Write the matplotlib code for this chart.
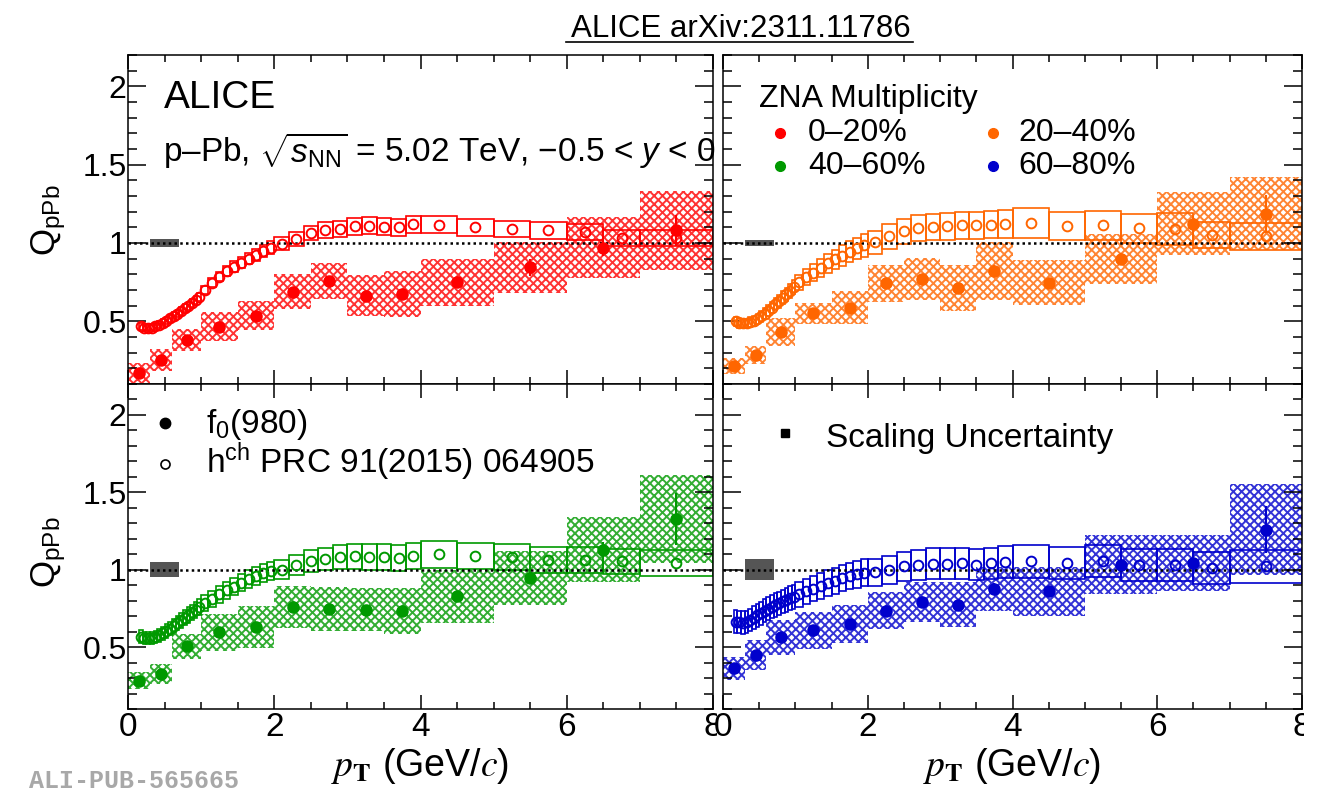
import matplotlib
matplotlib.use('Agg')
import matplotlib.pyplot as plt
from matplotlib.patches import Rectangle
from matplotlib.lines import Line2D
from matplotlib.ticker import MultipleLocator, FixedLocator, FormatStrFormatter
from matplotlib.colors import to_rgba
from matplotlib.transforms import Bbox

plt.rcParams['font.family'] = ['Liberation Sans', 'DejaVu Sans']
plt.rcParams['mathtext.fontset'] = 'custom'
plt.rcParams['mathtext.rm'] = 'Liberation Sans'
plt.rcParams['mathtext.it'] = 'Liberation Sans:italic'
plt.rcParams['mathtext.bf'] = 'Liberation Sans:bold'
plt.rcParams['hatch.linewidth'] = 1.4

W, H = 1317, 792

# f0(980) pT bins
f0_lo = [0.0, 0.3, 0.6, 1.0, 1.5, 2.0, 2.5, 3.0, 3.5, 4.0, 5.0, 6.0, 7.0]
f0_hi = [0.3, 0.6, 1.0, 1.5, 2.0, 2.5, 3.0, 3.5, 4.0, 5.0, 6.0, 7.0, 8.0]

# charged hadron pT bin edges, PRC 91 (2015) 064905
hch_edges = [0.15, 0.2, 0.25, 0.3, 0.35, 0.4, 0.45, 0.5, 0.55, 0.6, 0.65, 0.7,
             0.75, 0.8, 0.85, 0.9, 0.95, 1.0, 1.1, 1.2, 1.3, 1.4, 1.5, 1.6,
             1.7, 1.8, 1.9, 2.0, 2.2, 2.4, 2.6, 2.8, 3.0, 3.2, 3.4, 3.6, 3.8,
             4.0, 4.5, 5.0, 5.5, 6.0, 6.5, 7.0, 8.0]

classes = ['0–20%', '20–40%', '40–60%', '60–80%']
colors = ['#ff0000', '#ff6600', '#009900', '#0000cc']

# ZNA 0-20%
f0_q_0_20 = [0.171, 0.252, 0.378, 0.467, 0.537, 0.689, 0.759, 0.664, 0.674, 0.748, 0.844, 0.970, 1.080]
f0_stat_0_20 = [0.010, 0.010, 0.010, 0.012, 0.015, 0.015, 0.020, 0.020, 0.030, 0.030, 0.055, 0.050, 0.100]
f0_sys_0_20 = [0.064, 0.069, 0.070, 0.095, 0.095, 0.110, 0.115, 0.130, 0.145, 0.153, 0.160, 0.195, 0.250]
hch_q_0_20 = [0.468, 0.460, 0.458, 0.460, 0.468, 0.478, 0.490, 0.505, 0.520, 0.535, 0.550, 0.567,
              0.584, 0.600, 0.617, 0.636, 0.655, 0.700, 0.745, 0.785, 0.820, 0.850, 0.875, 0.900,
              0.925, 0.950, 0.970, 0.996, 1.027, 1.063, 1.082, 1.090, 1.107, 1.110, 1.105, 1.100,
              1.120, 1.118, 1.100, 1.090, 1.080, 1.070, 1.034, 1.030]
hch_sys_0_20 = [0.022, 0.022, 0.022, 0.022, 0.022, 0.022, 0.022, 0.022, 0.022, 0.023, 0.023, 0.024,
                0.024, 0.025, 0.025, 0.026, 0.026, 0.028, 0.029, 0.030, 0.032, 0.033, 0.034, 0.036,
                0.037, 0.038, 0.040, 0.042, 0.044, 0.047, 0.050, 0.052, 0.053, 0.053, 0.053, 0.053,
                0.054, 0.053, 0.053, 0.052, 0.052, 0.051, 0.050, 0.050]

# ZNA 20-40%
f0_q_20_40 = [0.216, 0.284, 0.432, 0.551, 0.587, 0.742, 0.771, 0.714, 0.820, 0.746, 0.898, 1.123, 1.186]
f0_stat_20_40 = [0.010, 0.010, 0.010, 0.012, 0.015, 0.015, 0.020, 0.020, 0.040, 0.030, 0.040, 0.050, 0.120]
f0_sys_20_40 = [0.053, 0.058, 0.090, 0.068, 0.106, 0.120, 0.132, 0.148, 0.185, 0.143, 0.160, 0.200, 0.233]
hch_q_20_40 = [0.500, 0.490, 0.487, 0.488, 0.495, 0.505, 0.517, 0.532, 0.550, 0.568, 0.588, 0.608,
               0.628, 0.650, 0.672, 0.695, 0.718, 0.750, 0.780, 0.810, 0.840, 0.870, 0.895, 0.920,
               0.945, 0.965, 0.985, 1.004, 1.042, 1.074, 1.095, 1.100, 1.106, 1.112, 1.112, 1.117,
               1.123, 1.127, 1.110, 1.112, 1.095, 1.089, 1.051, 1.042]
hch_sys_20_40 = [0.030, 0.030, 0.030, 0.030, 0.031, 0.032, 0.033, 0.034, 0.035, 0.036, 0.037, 0.038,
                 0.040, 0.041, 0.042, 0.044, 0.045, 0.048, 0.051, 0.054, 0.057, 0.060, 0.063, 0.066,
                 0.068, 0.070, 0.072, 0.075, 0.078, 0.080, 0.082, 0.084, 0.085, 0.086, 0.087, 0.088,
                 0.090, 0.098, 0.090, 0.092, 0.092, 0.100, 0.085, 0.085]

# ZNA 40-60%
f0_q_40_60 = [0.284, 0.325, 0.504, 0.597, 0.629, 0.759, 0.746, 0.741, 0.735, 0.828, 0.946, 1.129, 1.328]
f0_stat_40_60 = [0.010, 0.010, 0.010, 0.012, 0.015, 0.015, 0.020, 0.020, 0.030, 0.030, 0.040, 0.050, 0.167]
f0_sys_40_60 = [0.054, 0.065, 0.081, 0.120, 0.135, 0.137, 0.140, 0.140, 0.150, 0.170, 0.175, 0.210, 0.285]
hch_q_40_60 = [0.568, 0.560, 0.557, 0.558, 0.565, 0.575, 0.588, 0.603, 0.620, 0.637, 0.655, 0.673,
               0.690, 0.707, 0.724, 0.741, 0.758, 0.785, 0.810, 0.840, 0.866, 0.890, 0.915, 0.940,
               0.960, 0.978, 0.990, 1.000, 1.032, 1.058, 1.069, 1.080, 1.086, 1.082, 1.080, 1.075,
               1.090, 1.100, 1.090, 1.082, 1.065, 1.065, 1.054, 1.043]
hch_sys_40_60 = [0.040, 0.040, 0.040, 0.040, 0.041, 0.042, 0.043, 0.044, 0.045, 0.046, 0.047, 0.048,
                 0.049, 0.050, 0.050, 0.050, 0.050, 0.050, 0.051, 0.052, 0.053, 0.054, 0.055, 0.056,
                 0.057, 0.058, 0.059, 0.060, 0.065, 0.070, 0.074, 0.078, 0.080, 0.082, 0.083, 0.084,
                 0.085, 0.086, 0.085, 0.085, 0.084, 0.084, 0.083, 0.086]

# ZNA 60-80%
f0_q_60_80 = [0.364, 0.450, 0.565, 0.608, 0.649, 0.735, 0.789, 0.774, 0.875, 0.860, 1.032, 1.043, 1.259]
f0_stat_60_80 = [0.010, 0.010, 0.010, 0.012, 0.015, 0.015, 0.020, 0.030, 0.040, 0.035, 0.040, 0.050, 0.150]
f0_sys_60_80 = [0.075, 0.097, 0.113, 0.118, 0.124, 0.119, 0.130, 0.145, 0.140, 0.156, 0.190, 0.183, 0.296]
hch_q_60_80 = [0.665, 0.660, 0.658, 0.660, 0.675, 0.690, 0.705, 0.720, 0.735, 0.748, 0.760, 0.772,
               0.783, 0.795, 0.805, 0.815, 0.825, 0.840, 0.860, 0.878, 0.895, 0.914, 0.930, 0.946,
               0.960, 0.972, 0.982, 0.983, 0.996, 1.022, 1.032, 1.039, 1.039, 1.043, 1.032, 1.043,
               1.050, 1.054, 1.043, 1.054, 1.032, 1.032, 1.011, 1.022]
hch_sys_60_80 = [0.072, 0.072, 0.072, 0.072, 0.072, 0.073, 0.073, 0.074, 0.074, 0.075, 0.075, 0.076,
                 0.076, 0.077, 0.077, 0.078, 0.078, 0.079, 0.080, 0.081, 0.082, 0.083, 0.084, 0.085,
                 0.086, 0.087, 0.088, 0.085, 0.090, 0.095, 0.098, 0.100, 0.100, 0.100, 0.100, 0.100,
                 0.102, 0.105, 0.104, 0.104, 0.104, 0.104, 0.103, 0.105]

# normalisation (scaling) uncertainty per class
scale_unc = [0.023, 0.020, 0.047, 0.069]


def px(x):
    return x / W


def py(y):
    return 1 - y / H


def draw_panel(ax, color, f0_q, f0_stat, f0_sys, hch_q, hch_sys, sc):
    hatch_col = to_rgba(color, 0.8)
    for lo, hi, q, s in zip(f0_lo, f0_hi, f0_q, f0_sys):
        ax.add_patch(Rectangle((lo, q - s), hi - lo, 2 * s, facecolor='none',
                               edgecolor=hatch_col, hatch='xxxx', lw=0, zorder=1))
    for lo, hi, q, s in zip(hch_edges[:-1], hch_edges[1:], hch_q, hch_sys):
        ax.add_patch(Rectangle((lo, q - s), hi - lo, 2 * s, fill=False,
                               edgecolor=color, lw=1.2, zorder=2))
    ax.add_patch(Rectangle((0.3, 1 - sc), 0.4, 2 * sc, facecolor='#555555',
                           edgecolor='none', zorder=2))
    ax.axhline(1, color='black', lw=1.8, ls=(0, (1, 1.3)), zorder=3)
    hch_x = [(lo + hi) / 2 for lo, hi in zip(hch_edges[:-1], hch_edges[1:])]
    ax.plot(hch_x, hch_q, 'o', mfc='none', mec=color, ms=7, mew=1.4, zorder=4)
    f0_x = [(lo + hi) / 2 for lo, hi in zip(f0_lo, f0_hi)]
    ax.errorbar(f0_x, f0_q, yerr=f0_stat, fmt='o', color=color, ms=8,
                elinewidth=1.5, capsize=0, zorder=5)


def style_axes(ax, show_x, show_y):
    ax.set_xlim(0, 8)
    ax.set_ylim(0.1, 2.2)
    ax.xaxis.set_major_locator(FixedLocator([0, 2, 4, 6, 8]))
    ax.xaxis.set_minor_locator(MultipleLocator(0.5))
    ax.yaxis.set_major_locator(FixedLocator([0.5, 1, 1.5, 2]))
    ax.yaxis.set_minor_locator(MultipleLocator(0.1))
    ax.yaxis.set_major_formatter(FormatStrFormatter('%g'))
    ax.tick_params(which='both', direction='in', top=True, right=True, width=1.1)
    ax.tick_params(axis='x', which='major', length=10, labelsize=24, pad=2)
    ax.tick_params(axis='x', which='minor', length=5)
    ax.tick_params(axis='y', which='major', length=13, labelsize=23, pad=1)
    ax.tick_params(axis='y', which='minor', length=6.5)
    ax.tick_params(labelbottom=show_x, labelleft=show_y)
    for sp in ax.spines.values():
        sp.set_linewidth(1.1)


fig = plt.figure(figsize=(W / 100, H / 100), dpi=100)

# panel frames in pixels: (left, right, top, bottom)
frames = [(128, 713, 55, 384), (723, 1302, 55, 384),
          (128, 713, 384, 709), (723, 1302, 384, 709)]
panel_data = [
    (f0_q_0_20, f0_stat_0_20, f0_sys_0_20, hch_q_0_20, hch_sys_0_20),
    (f0_q_20_40, f0_stat_20_40, f0_sys_20_40, hch_q_20_40, hch_sys_20_40),
    (f0_q_40_60, f0_stat_40_60, f0_sys_40_60, hch_q_40_60, hch_sys_40_60),
    (f0_q_60_80, f0_stat_60_80, f0_sys_60_80, hch_q_60_80, hch_sys_60_80),
]

axes = []
for i, ((l, r, t, b), d) in enumerate(zip(frames, panel_data)):
    ax = fig.add_axes([px(l), py(b), (r - l) / W, (b - t) / H])
    draw_panel(ax, colors[i], *d, scale_unc[i])
    style_axes(ax, show_x=i >= 2, show_y=i % 2 == 0)
    axes.append(ax)

# title with underline
title = fig.text(px(741), py(37), 'ALICE arXiv:2311.11786', fontsize=22.5,
                 ha='center', va='baseline')
fig.canvas.draw()
bb = title.get_window_extent()
fig.add_artist(Line2D([px(bb.x0 - 5), px(bb.x1 + 2)], [py(42), py(42)],
                      color='black', lw=1.2, transform=fig.transFigure))

# the "8" labels get cut where the neighbouring pad / canvas starts
for ax, cut in ((axes[2], 717), (axes[3], 1304)):
    for tick in ax.xaxis.get_major_ticks():
        if abs(tick.get_loc() - 8) < 1e-6:
            tick.label1.set_clip_box(Bbox([[0, 0], [cut, H]]))
            tick.label1.set_clip_on(True)

# y axis titles
for yc in (220, 552):
    fig.text(px(49), py(yc), r'Q$_{\mathrm{pPb}}$', rotation=90, fontsize=25,
             ha='center', va='center')

# x axis titles
for xc in (420, 1012):
    fig.text(px(xc), py(776), r'$p_{\mathbf{T}}$ (GeV/$c$)', fontsize=27,
             ha='center', va='baseline', math_fontfamily='stix')

fig.text(px(29), py(788), 'ALI-PUB-565665', family='Liberation Mono',
         weight='bold', color='#a8a8a8', fontsize=18, va='baseline')

# top-left annotations
fig.text(px(164), py(108), 'ALICE', fontsize=28, va='baseline')
fig.text(px(163), py(162), r'p–Pb, $\sqrt{s_{\mathrm{NN}}}$ = 5.02 TeV, −0.5 < $y$ < 0',
         fontsize=24, va='baseline')

# multiplicity class legend
fig.text(px(759), py(107), 'ZNA Multiplicity', fontsize=23, va='baseline')
legend_pos = [(780, 808, 141), (993, 1018, 141), (780, 808, 174), (993, 1018, 174)]
for (mx, tx, base), lab, c in zip(legend_pos, classes, colors):
    fig.add_artist(Line2D([px(mx)], [py(base - 8)], marker='o', ls='none', color=c,
                          ms=7, transform=fig.transFigure))
    fig.text(px(tx), py(base), lab, fontsize=23, va='baseline')

# particle legend
fig.add_artist(Line2D([px(165)], [py(423)], marker='o', ls='none', color='black',
                      ms=7.5, transform=fig.transFigure))
fig.text(px(206), py(433), r'f$_{0}$(980)', fontsize=24, va='baseline')
fig.add_artist(Line2D([px(165)], [py(464)], marker='o', ls='none', mfc='none',
                      mec='black', mew=1.2, ms=6.5, transform=fig.transFigure))
fig.text(px(206), py(473), r'h$^{\mathrm{ch}}$ PRC 91(2015) 064905', fontsize=24,
         va='baseline')

fig.add_artist(Line2D([px(785)], [py(433)], marker='s', ls='none', color='black',
                      ms=6, transform=fig.transFigure))
fig.text(px(826), py(447), 'Scaling Uncertainty', fontsize=24, va='baseline')

fig.savefig('out.png', dpi=100)
